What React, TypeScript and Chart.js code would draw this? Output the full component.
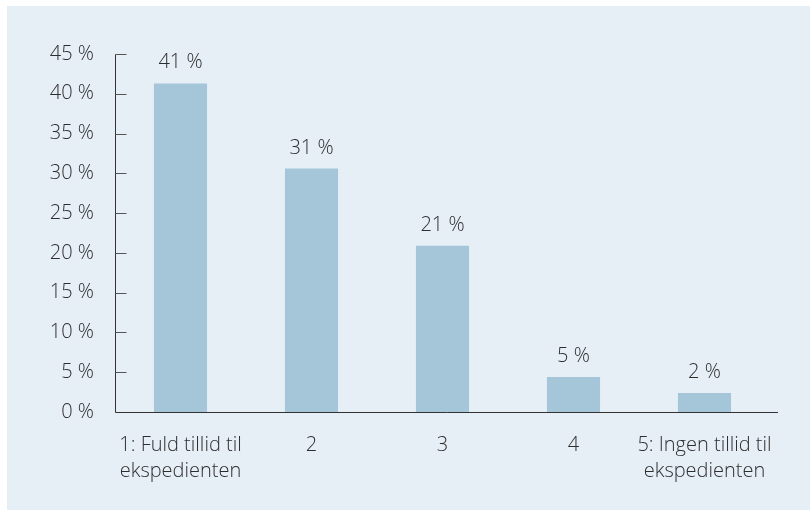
import React, { useEffect, useRef } from "react";
import { Chart, registerables } from "chart.js";

Chart.register(...registerables);

const categories: (string | string[])[] = [
  ["1: Fuld tillid til", "ekspedienten"],
  "2",
  "3",
  "4",
  ["5: Ingen tillid til", "ekspedienten"],
];
const values = [41.3, 30.6, 20.9, 4.4, 2.4];
const valueLabels = ["41 %", "31 %", "21 %", "5 %", "2 %"];
const yTicks = [0, 5, 10, 15, 20, 25, 30, 35, 40, 45];

const TEXT = "#2e2e2e";
const FONT = "'Open Sans', sans-serif";

const axisPlugin = {
  id: "axisPlugin",
  afterDraw(chart: any) {
    const { ctx, chartArea, scales } = chart;
    const y = scales.y;
    ctx.save();
    ctx.strokeStyle = "#333333";
    ctx.lineWidth = 1;
    const x0 = Math.round(chartArea.left) + 0.5;
    const yb = Math.round(chartArea.bottom) + 0.5;
    ctx.beginPath();
    ctx.moveTo(x0, Math.round(y.getPixelForValue(45)) + 0.5);
    ctx.lineTo(x0, yb);
    ctx.lineTo(chartArea.right + 8, yb);
    ctx.stroke();
    ctx.strokeStyle = "#555555";
    yTicks.forEach((v) => {
      if (v === 0) return;
      const py = Math.round(y.getPixelForValue(v)) + 0.5;
      ctx.beginPath();
      ctx.moveTo(x0, py);
      ctx.lineTo(x0 + 11, py);
      ctx.stroke();
    });
    // value labels
    const meta = chart.getDatasetMeta(0);
    ctx.fillStyle = TEXT;
    ctx.font = `350 20px ${FONT}`;
    ctx.textAlign = "center";
    ctx.textBaseline = "alphabetic";
    meta.data.forEach((bar: any, i: number) => {
      ctx.fillText(valueLabels[i], bar.x, bar.y - 15);
    });
    ctx.restore();
  },
};

export default function App() {
  const ref = useRef<HTMLCanvasElement | null>(null);
  useEffect(() => {
    if (!ref.current) return;
    const chart = new Chart(ref.current, {
      type: "bar",
      data: {
        labels: categories,
        datasets: [
          {
            data: values,
            backgroundColor: "#a5c6d8",
            categoryPercentage: 1,
            barPercentage: 0.405,
          },
        ],
      },
      options: {
        animation: false,
        responsive: false,
        maintainAspectRatio: false,
        layout: { padding: { top: 48, right: 40, left: 0, bottom: 0 } },
        plugins: { legend: { display: false }, tooltip: { enabled: false } },
        scales: {
          x: {
            grid: { display: false, drawTicks: false },
            border: { display: false },
            ticks: {
              color: TEXT,
              font: { family: FONT, size: 20, weight: "350", lineHeight: 1.3 },
              padding: 20,
              maxRotation: 0,
              autoSkip: false,
            },
            afterFit(scale: any) {
              scale.height = 98;
            },
          },
          y: {
            min: 0,
            max: 45,
            grid: { display: false, drawTicks: false },
            border: { display: false },
            afterBuildTicks(scale: any) {
              scale.ticks = yTicks.map((v) => ({ value: v }));
            },
            ticks: {
              color: TEXT,
              font: { family: FONT, size: 20, weight: "350" },
              padding: 21,
              callback: (v: any) => `${v} %`,
            },
            afterFit(scale: any) {
              scale.width = 108;
            },
          },
        },
      },
      plugins: [axisPlugin],
    });
    return () => chart.destroy();
  }, []);
  return (
    <div
      style={{
        position: "absolute",
        left: 7,
        top: 6,
        width: 803,
        height: 504,
        background: "#e6eef6",
      }}
    >
      <canvas ref={ref} width={803} height={504} style={{ display: "block" }} />
    </div>
  );
}
